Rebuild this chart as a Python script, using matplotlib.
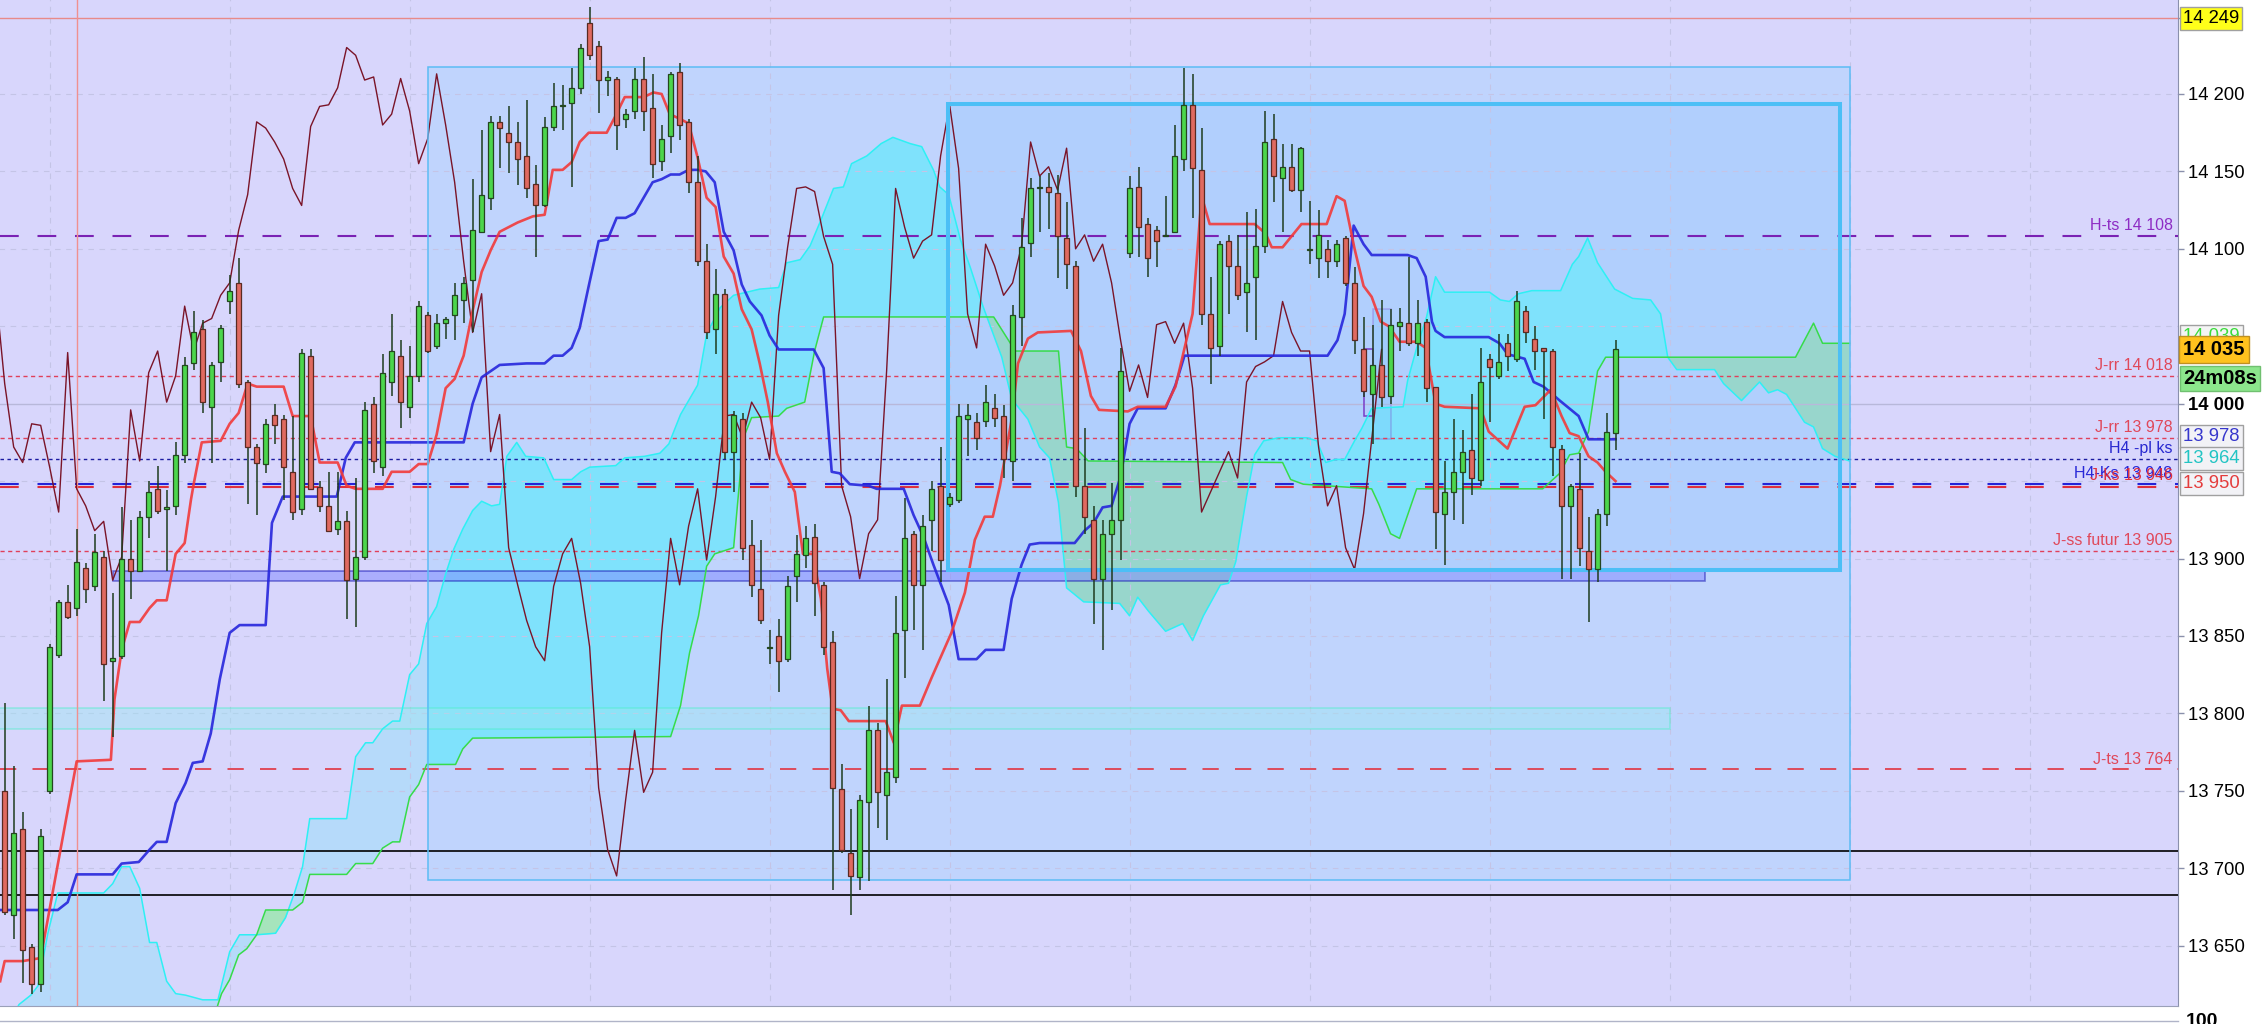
import numpy as np
import matplotlib.pyplot as plt
from matplotlib.patches import Rectangle
from matplotlib.lines import Line2D

plt.rcParams['font.family'] = ['Liberation Sans', 'DejaVu Sans']

# ---- candles (bar index 0..179) ----
opens = [13750, 13670, 13725, 13649, 13625, 13750, 13838, 13872, 13868, 13894,
         13882, 13901, 13834, 13837, 13900, 13892, 13927, 13945, 13932, 13934,
         13967, 14026, 14048, 13998, 14027, 14066, 14078, 14014, 13972, 13961,
         13993, 13990, 13956, 13932, 14031, 13946, 13934, 13919, 13924, 13887,
         13901, 14000, 13959, 14014, 14031, 13998, 14018, 14057, 14037, 14052,
         14057, 14067, 14080, 14111, 14133, 14182, 14175, 14169, 14160, 14142,
         14128, 14179, 14192, 14194, 14204, 14246, 14231, 14209, 14210, 14184,
         14189, 14210, 14191, 14157, 14173, 14214, 14182, 14143, 14092, 14048,
         14071, 13969, 13990, 13909, 13880, 13842, 13850, 13835, 13889, 13902,
         13914, 13883, 13846, 13751, 13710, 13694, 13743, 13789, 13747, 13759,
         13854, 13916, 13883, 13925, 13947, 13935, 13938, 13990, 13988, 13989,
         13997, 13992, 13963, 14056, 14104, 14139, 14140, 14136, 14107, 14089,
         13947, 13925, 13887, 13916, 13925, 14097, 14140, 14116, 14112, 14108,
         14111, 14158, 14193, 14151, 14058, 14037, 14105, 14089, 14072, 14082,
         14102, 14171, 14146, 14153, 14138, 14099, 14094, 14100, 14092, 14107,
         14078, 14035, 14006, 14025, 14005, 14050, 14052, 14039, 14053, 14011,
         13929, 13943, 13956, 13970, 13951, 14029, 14018, 14039, 14029, 14060,
         14042, 14036, 14034, 13971, 13934, 13945, 13905, 13893, 13929, 13981]
closes = [13672, 13723, 13647, 13625, 13721, 13843, 13872, 13862, 13898, 13880,
          13904, 13832, 13836, 13900, 13892, 13927, 13943, 13931, 13933, 13967,
          14025, 14046, 14001, 14025, 14049, 14073, 14013, 13972, 13962, 13987,
          13986, 13959, 13930, 14033, 13945, 13934, 13918, 13924, 13886, 13901,
          13996, 13963, 14020, 14034, 14001, 14018, 14063, 14034, 14052, 14055,
          14070, 14078, 14112, 14135, 14182, 14178, 14169, 14158, 14139, 14128,
          14179, 14192, 14193, 14204, 14230, 14225, 14209, 14211, 14180, 14187,
          14210, 14189, 14155, 14171, 14213, 14180, 14143, 14092, 14046, 14071,
          13969, 13993, 13907, 13883, 13860, 13843, 13834, 13882, 13903, 13913,
          13884, 13843, 13752, 13712, 13695, 13744, 13789, 13749, 13762, 13852,
          13913, 13883, 13921, 13945, 13899, 13940, 13992, 13993, 13978, 14001,
          13991, 13964, 14057, 14101, 14139, 14140, 14137, 14108, 14090, 13947,
          13927, 13887, 13916, 13925, 14021, 14139, 14114, 14094, 14105, 14109,
          14160, 14193, 14152, 14058, 14036, 14103, 14089, 14070, 14078, 14102,
          14169, 14147, 14153, 14138, 14165, 14100, 14109, 14092, 14103, 14078,
          14041, 14008, 14025, 14004, 14051, 14053, 14039, 14052, 14010, 13930,
          13943, 13956, 13969, 13952, 14014, 14024, 14027, 14031, 14066, 14046,
          14034, 14034, 13972, 13934, 13947, 13907, 13893, 13929, 13982, 14035]
highs = [13807, 13766, 13736, 13651, 13725, 13845, 13873, 13883, 13919, 13897,
         13916, 13905, 13878, 13933, 13925, 13931, 13950, 13960, 13944, 13975,
         14030, 14060, 14054, 14027, 14051, 14083, 14094, 14015, 13974, 13990,
         14000, 13993, 13992, 14035, 14035, 13950, 13956, 13956, 13931, 13952,
         14001, 14004, 14032, 14058, 14041, 14037, 14066, 14059, 14058, 14056,
         14078, 14082, 14145, 14177, 14186, 14186, 14192, 14182, 14196, 14154,
         14185, 14207, 14206, 14217, 14232, 14256, 14234, 14215, 14211, 14190,
         14217, 14224, 14213, 14180, 14214, 14220, 14184, 14160, 14103, 14087,
         14074, 13995, 13994, 13925, 13912, 13854, 13861, 13889, 13915, 13921,
         13922, 13885, 13853, 13767, 13738, 13747, 13805, 13794, 13822, 13876,
         13939, 13918, 13928, 13950, 13972, 13942, 14000, 14000, 13994, 14012,
         14006, 13999, 14064, 14120, 14146, 14147, 14149, 14148, 14130, 14092,
         13984, 13934, 13925, 13949, 14036, 14147, 14153, 14120, 14115, 14134,
         14180, 14217, 14213, 14178, 14082, 14105, 14109, 14109, 14124, 14126,
         14189, 14187, 14168, 14168, 14166, 14131, 14125, 14106, 14106, 14108,
         14088, 14056, 14051, 14067, 14061, 14062, 14095, 14067, 14055, 14011,
         13963, 13990, 13983, 14006, 14036, 14032, 14045, 14045, 14073, 14063,
         14050, 14036, 14035, 13973, 13948, 13968, 13927, 13932, 13994, 14041]
lows = [13670, 13654, 13626, 13619, 13620, 13748, 13836, 13861, 13863, 13871,
        13879, 13808, 13785, 13835, 13874, 13892, 13913, 13929, 13892, 13928,
        13962, 14022, 13994, 13962, 14014, 14058, 14010, 13935, 13928, 13955,
        13974, 13938, 13925, 13928, 13944, 13930, 13917, 13915, 13861, 13856,
        13899, 13955, 13953, 14005, 13984, 13991, 14014, 14033, 14035, 14042,
        14041, 14052, 14046, 14110, 14125, 14152, 14149, 14141, 14133, 14095,
        14127, 14176, 14177, 14140, 14200, 14222, 14188, 14199, 14164, 14178,
        14184, 14176, 14146, 14150, 14162, 14170, 14136, 14089, 14042, 14032,
        13964, 13943, 13899, 13875, 13858, 13832, 13814, 13833, 13872, 13894,
        13863, 13838, 13686, 13710, 13670, 13686, 13692, 13726, 13718, 13755,
        13823, 13854, 13841, 13905, 13885, 13933, 13936, 13966, 13970, 13985,
        13985, 13952, 13950, 14037, 14095, 14111, 14113, 14081, 14074, 13940,
        13916, 13858, 13841, 13867, 13899, 14094, 14095, 14082, 14088, 14108,
        14110, 14150, 14120, 14051, 14013, 14031, 14058, 14067, 14046, 14041,
        14097, 14130, 14111, 14137, 14124, 14090, 14081, 14081, 14088, 14076,
        14032, 14004, 13974, 13998, 14000, 14034, 14037, 14031, 14001, 13906,
        13896, 13925, 13922, 13941, 13947, 13988, 14016, 14021, 14027, 14039,
        14022, 13990, 13953, 13887, 13887, 13895, 13859, 13885, 13921, 13970]

# ---- ichimoku lines as (bar, price) vertices ----
tenkan = [(-0.5, 13627), (0, 13640), (2, 13640), (4, 13642), (8, 13769), (11.8, 13770), (12.2, 13809),
          (13, 13841), (13.9, 13859), (15, 13859), (16.1, 13868), (16.9, 13873), (18, 13873), (19, 13903),
          (20, 13910), (20.7, 13938), (21, 13948), (21.9, 13975), (24, 13976), (25, 13987), (26, 13994),
          (27, 14013), (28, 14011), (31, 14011), (32, 13992), (34, 13992), (35, 13962), (37, 13962),
          (38, 13947), (39, 13945), (42, 13945), (43, 13956), (45, 13956), (46, 13961), (47, 13961),
          (48, 13980), (49, 14010), (50, 14016), (51, 14031), (52, 14060), (53, 14085), (54, 14099),
          (55, 14111), (57, 14117), (58.7, 14121), (60, 14122), (60.9, 14151), (62, 14151), (63, 14156),
          (63.9, 14169), (64.9, 14175), (66.9, 14175), (67.8, 14185), (68.9, 14198), (71, 14198),
          (72.1, 14201), (73, 14200), (73.9, 14187), (75, 14184), (76, 14181), (77, 14159), (78, 14133),
          (79, 14127), (79.9, 14095), (81, 14084), (81.9, 14061), (83, 14048), (83.9, 14026), (84.8, 14001),
          (85.8, 13968), (86.7, 13956), (87.8, 13943), (88.7, 13903), (89.8, 13903), (90.7, 13874),
          (91.4, 13829), (92, 13803), (92.9, 13802), (93.8, 13795), (97.9, 13795), (98.8, 13781),
          (99.7, 13805), (101.7, 13805), (103, 13823), (105.2, 13852), (106.7, 13878), (107.8, 13912),
          (108.9, 13927), (109.8, 13927), (110.6, 13947), (111.9, 13990), (112.6, 14026), (113.7, 14042),
          (114.8, 14046), (118.5, 14047), (119.6, 14034), (120.7, 14005), (121.6, 13996), (124.8, 13995),
          (125.9, 13998), (129, 13998), (130.1, 14011), (132, 14058), (133, 14134), (133.9, 14116),
          (138.9, 14116), (140.1, 14110), (140.8, 14101), (142, 14101), (144.1, 14116), (146.9, 14116),
          (148, 14134), (148.9, 14131), (150, 14100), (151, 14076), (151.9, 14069), (152.9, 14053),
          (153.8, 14050), (155, 14040), (156.9, 14040), (157.9, 14036), (159, 14000), (160, 13998),
          (164, 13997), (164.9, 13982), (167, 13971), (168.9, 13998), (170.1, 13999), (171.8, 14009),
          (173, 13992), (173.9, 13981), (174.9, 13979), (176, 13966), (177, 13962), (177.9, 13956),
          (179, 13950)]

kijun = [(-0.5, 13673), (5.9, 13673), (7, 13678), (8, 13696), (12, 13696), (13, 13703), (14.9, 13704),
         (16.1, 13712), (16.9, 13717), (18, 13717), (19, 13742), (20.1, 13755), (20.9, 13768), (22, 13769),
         (22.9, 13787), (23.9, 13822), (25, 13852), (26.1, 13857), (29, 13857), (29.7, 13923), (30.9, 13940),
         (36.9, 13940), (37.9, 13965), (38.9, 13975), (51, 13975), (52, 14000), (53, 14017), (55, 14025),
         (58, 14026), (60, 14026), (61, 14031), (62, 14031), (63, 14036), (63.9, 14049), (64.9, 14076),
         (66, 14105), (67, 14106), (68, 14120), (69, 14120), (70, 14123), (71, 14133), (72, 14143),
         (73, 14145), (74, 14148), (75, 14148), (76, 14151), (77, 14151), (77.9, 14150), (78.9, 14143),
         (79.9, 14111), (81, 14099), (81.9, 14077), (82.8, 14066), (84.1, 14057), (85, 14044), (86, 14035),
         (89.9, 14035), (91, 14023), (91.9, 13956), (92.8, 13955), (93.9, 13948), (96, 13947), (96.9, 13945),
         (99.9, 13945), (101, 13928), (102.1, 13914), (103.2, 13896), (104.9, 13870), (106, 13835),
         (108, 13835), (109, 13841), (111, 13841), (111.9, 13874), (113, 13896), (113.9, 13909), (115, 13910),
         (118.9, 13910), (120, 13918), (121, 13923), (122, 13933), (123, 13934), (124, 13953), (125, 13987),
         (125.9, 13997), (129, 13997), (130.1, 14012), (131.1, 14031), (147, 14031), (148.1, 14041),
         (148.9, 14058), (149.9, 14115), (151, 14103), (151.9, 14096), (155.9, 14096), (156.9, 14094),
         (157.9, 14082), (158.6, 14053), (159, 14047), (160, 14043), (164.9, 14043), (166.1, 14039),
         (167, 14032), (168.9, 14029), (169.9, 14014), (171, 14011), (172.8, 14002), (174.9, 13992),
         (176, 13977), (179, 13977)]

senkou_a = [(-0.5, 13560), (23, 13598), (23.7, 13612), (24.1, 13619), (25, 13628), (26, 13644), (26.9, 13648),
            (28, 13657), (29, 13673), (32, 13673), (33.1, 13678), (33.9, 13696), (38, 13696), (39, 13703),
            (40.9, 13703), (42, 13713), (43.1, 13717), (43.9, 13717), (45, 13746), (46, 13754), (46.9, 13767),
            (50.1, 13767), (50.9, 13777), (52, 13784), (74, 13785), (75.1, 13805), (76.1, 13839), (77.1, 13863),
            (78, 13895), (78.9, 13903), (81, 13907), (82.1, 13978), (83, 13991), (86, 13992), (86.9, 13997),
            (88.9, 14001), (90, 14034), (91, 14056), (109.9, 14056), (112.3, 14034), (117.1, 14034), (118, 13972),
            (119.1, 13971), (120.4, 13963), (142, 13962), (142.9, 13951), (144.3, 13948), (151.9, 13945),
            (152.7, 13935), (154, 13916), (155, 13913), (156.9, 13945), (170.9, 13945), (172.8, 13955),
            (173.9, 13967), (174.9, 13968), (176, 13982), (177, 14021), (177.9, 14030), (199, 14030),
            (200, 14041), (201, 14052), (202, 14039), (205, 14039)]

senkou_b = [(-0.5, 13590), (1.6, 13612), (2.9, 13618), (3.7, 13624), (4.8, 13658), (5.9, 13684), (11, 13684),
            (12, 13690), (13, 13701), (13.9, 13701), (15, 13687), (16.1, 13652), (16.9, 13652), (18, 13627),
            (19, 13619), (20.1, 13618), (22, 13615), (23.7, 13615), (25, 13646), (26.1, 13657), (28, 13657),
            (30.1, 13658), (31.2, 13668), (32.2, 13684), (33.1, 13701), (33.9, 13732), (38, 13732), (39, 13772),
            (40.1, 13781), (40.9, 13781), (42, 13790), (43.1, 13795), (43.9, 13795), (45, 13825), (46, 13832),
            (46.9, 13858), (48, 13869), (49, 13890), (49.9, 13906), (50.9, 13919), (52, 13931), (53, 13937),
            (54.1, 13934), (55, 13935), (55.8, 13966), (56.9, 13975), (57.9, 13966), (59.9, 13965), (61, 13951),
            (63, 13951), (64, 13956), (65, 13959), (67.9, 13960), (68.9, 13965), (71.1, 13966), (72.8, 13968),
            (73.8, 13974), (75.1, 13993), (77, 14012), (78, 14045), (79.5, 14062), (81, 14070), (83.9, 14074),
            (86, 14075), (86.9, 14091), (88.4, 14093), (89.5, 14102), (90.8, 14120), (92.1, 14139), (93.2, 14140),
            (94.1, 14155), (95.8, 14160), (97.4, 14168), (98.7, 14172), (100.6, 14168), (101.9, 14166),
            (103.2, 14151), (103.9, 14140), (104.9, 14135), (106.2, 14106), (107.3, 14088), (108.7, 14063),
            (110.8, 14030), (111.9, 14003), (113.7, 13990), (115, 13972), (116.1, 13965), (117.1, 13936),
            (118, 13881), (119.9, 13872), (123.9, 13871), (125, 13863), (125.9, 13875), (127.1, 13866),
            (129, 13853), (130.9, 13858), (132, 13847), (133.2, 13863), (135.1, 13883), (136, 13884),
            (136.8, 13898), (138, 13940), (138.9, 13967), (139.9, 13976), (141.6, 13978), (144.7, 13978),
            (145.8, 13976), (146.8, 13962), (147.9, 13964), (148.9, 13964), (150, 13976), (150.8, 13984),
            (151.9, 13997), (155.4, 13998), (155.9, 14015), (156.9, 14036), (158, 14056), (159, 14082),
            (160, 14072), (165, 14072), (166.2, 14067), (167.2, 14066), (168.2, 14071), (169.7, 14073),
            (172.9, 14073), (174.2, 14090), (174.9, 14095), (175.9, 14107), (177, 14091), (178.9, 14074),
            (180.9, 14068), (182.9, 14067), (184, 14058), (184.8, 14030), (185.8, 14022), (190, 14022),
            (191, 14013), (193, 14002), (195, 14014), (196, 14007), (197, 14009), (198, 14006), (200, 13988),
            (201, 13985), (202, 13971), (203.4, 13966), (205, 13963)]

chikou_shift = 26

# ---- price levels ----
lvl_top = 14249
lvl_black = [13711, 13683]
grid_prices = [13650, 13700, 13750, 13800, 13850, 13900, 13950, 14050, 14100, 14150, 14200]
tick_prices = [13650, 13700, 13750, 13800, 13850, 13900, 14000, 14100, 14150, 14200]
vgrid_bars = [5, 25, 45, 65, 85, 105, 125, 145, 165, 185, 205, 225]

# figure: 2266 x 1024 px
W, H = 2266, 1024
fig = plt.figure(figsize=(W / 100, H / 100), dpi=100, facecolor='white')
ax = fig.add_axes([0, 1 - 1006 / H, 2178 / W, 1006 / H])
BG = '#d8d6fc'
ax.set_facecolor(BG)
ax.set_xlim(-0.52, 241.5)
ax.set_ylim(13611, 14260.7)

idx = np.arange(len(opens))
o = np.array(opens, float)
c = np.array(closes, float)
hi = np.array(highs, float)
lo = np.array(lows, float)

# rectangles drawn on the chart
ax.add_patch(Rectangle((47, 13692.4), 158, 525.2, fc='#9fd2ff', alpha=0.42, ec='none', zorder=1))
ax.add_patch(Rectangle((47, 13692.4), 158, 525.2, fill=False, ec='#5cbcf5', lw=1.1, zorder=5.4))
ax.add_patch(Rectangle((104.8, 13892.6), 99.1, 300.7, fc='#8cc4ff', alpha=0.28, ec='none', zorder=1.1))

# cloud
ta, ya = np.array(senkou_a).T
tb, yb = np.array(senkou_b).T
xs = np.union1d(np.union1d(ta, tb), [47.0])
a_ = np.interp(xs, ta, ya)
b_ = np.interp(xs, tb, yb)
left = xs <= 47
right = xs >= 47
ax.fill_between(xs, a_, b_, where=(b_ >= a_) & left, interpolate=True, color='#b6dafa', lw=0, zorder=2)
ax.fill_between(xs, a_, b_, where=(b_ >= a_) & right, interpolate=True, color='#7fe2fc', lw=0, zorder=2)
ax.fill_between(xs, a_, b_, where=(a_ >= b_) & left, interpolate=True, color='#a6e4bc', lw=0, zorder=2)
ax.fill_between(xs, a_, b_, where=(a_ >= b_) & right, interpolate=True, color='#98d6cc', lw=0, zorder=2)

# grid
ax.hlines(grid_prices, -1, 242, colors='#c4c4e6', lw=0.8, linestyles=(0, (5, 5)), zorder=2.5)
ax.vlines(vgrid_bars, 13600, 14270, colors='#c4c4e6', lw=0.8, linestyles=(0, (5, 5)), zorder=2.5)
ax.axhline(14000, color='#b8b8da', lw=1, zorder=2.5)

# zones
ax.add_patch(Rectangle((-1, 13790.1), 186, 13.6, fc='#9ee6f2', alpha=0.45, ec='#4cf0c8', lw=1.2, zorder=3))
ax.add_patch(Rectangle((12, 13885.4), 176.9, 6.6, fc='#8088ff', alpha=0.5, ec='#1010b0', lw=1.2, zorder=3))
ax.add_patch(Rectangle((151, 13992), 1, 43, fill=False, ec='#7a3cc8', lw=1.1, zorder=3))
ax.add_patch(Rectangle((152, 13977), 2, 84, fc='#7cc8ff', alpha=0.3, ec='#7a3cc8', lw=1.1, zorder=3))

# horizontal levels
ax.axhline(lvl_top, color='#e88a8a', lw=1, zorder=3.5)
for yv in lvl_black:
    ax.axhline(yv, color='black', lw=1.2, zorder=3.5)
ax.axhline(14108, color='#7a22b4', lw=1.5, ls=(0, (9, 9)), zorder=3.5)
ax.axhline(14018, color='#e0405a', lw=1, ls=(0, (3, 2.5)), zorder=3.5)
ax.axhline(13978, color='#e0405a', lw=1, ls=(0, (3, 2.5)), zorder=3.5)
ax.axhline(13964, color='#1a1aa0', lw=1, ls=(0, (2.5, 2.5)), zorder=3.5)
ax.axhline(13948, color='#2424d8', lw=1.5, ls=(0, (9, 9)), zorder=3.5)
ax.axhline(13946, color='#e0303c', lw=1.5, ls=(0, (9, 9)), zorder=3.5)
ax.axhline(13905, color='#e0405a', lw=1, ls=(0, (3, 2.5)), zorder=3.5)
ax.axhline(13764, color='#e0404e', lw=1.3, ls=(0, (9, 9)), zorder=3.5)
ax.axvline(8, color='#f09090', lw=1, zorder=3.5)

# level labels
lab = dict(ha='right', va='baseline', fontsize=11.5, zorder=8)
xr = 240.9
ax.text(xr, 14112, 'H-ts 14 108', color='#8e2cc4', **lab)
ax.text(xr, 14021.5, 'J-rr 14 018', color='#e0485a', **lab)
ax.text(xr, 13981.5, 'J-rr 13 978', color='#e0485a', **lab)
ax.text(xr, 13968, 'H4 -pl ks', color='#2828d0', **lab)
ax.text(xr, 13952, 'H4-Ks 13 948', color='#2828d8', **lab)
ax.text(xr, 13950.5, 'J-ks 13 946', color='#e0303c', **lab)
ax.text(xr, 13908.5, 'J-ss futur 13 905', color='#e0485a', **lab)
ax.text(xr, 13767.5, 'J-ts 13 764', color='#e0485a', **lab)

# ichimoku lines
ax.plot(*np.array(senkou_b).T, color='#2ef0f4', lw=1.1, zorder=4)
ax.plot(*np.array(senkou_a).T, color='#36dc4a', lw=1.1, zorder=4)
ax.plot(idx[chikou_shift - 1:] - chikou_shift, c[chikou_shift - 1:], color='#7a1428', lw=1.0, zorder=4.2)
ax.plot(*np.array(kijun).T, color='#2626dc', lw=1.9, alpha=0.9, zorder=5)
ax.plot(*np.array(tenkan).T, color='#f23a3a', lw=1.9, alpha=0.9, zorder=5)

# bold rectangle border
ax.add_patch(Rectangle((104.8, 13892.6), 99.1, 300.7, fill=False, ec='#4cbff6', lw=2.9,
                       joinstyle='miter', zorder=5.5))

# candles
up = c >= o
body_lo = np.minimum(o, c)
body_h = np.maximum(np.abs(c - o), 0.9)
ax.vlines(idx, lo, hi, colors='#1e3c1e', lw=1.1, zorder=6)
ax.bar(idx[up], body_h[up], bottom=body_lo[up], width=0.62, color='#4cd64c',
       edgecolor='#24461f', lw=0.9, zorder=7)
ax.bar(idx[~up], body_h[~up], bottom=body_lo[~up], width=0.62, color='#e06a60',
       edgecolor='#5a2a22', lw=0.9, zorder=7)

# axes styling
for s in ('top', 'left'):
    ax.spines[s].set_visible(False)
ax.spines['right'].set_color('#8a90ac')
ax.spines['bottom'].set_color('#9aa0b8')
ax.set_xticks([])
ax.yaxis.tick_right()
ax.set_yticks(tick_prices + [lvl_top])
ax.set_yticklabels([f'{v:,}'.replace(',', ' ') for v in tick_prices] + [''])
ax.tick_params(axis='y', length=4, width=1, color='#8a90ac', labelsize=13.3, pad=3)
for t in ax.get_yticklabels():
    if t.get_text() == '14 000':
        t.set_fontweight('bold')

# price boxes on the right scale
ytr = ax.get_yaxis_transform()
def price_box(y, s, fc, tc, bold=False, z=10, ec='#a0a0a0', size=13.3, pad=0.17):
    ax.text(1.0023, y, s, transform=ytr, ha='left', va='center', fontsize=size, color=tc,
            fontweight='bold' if bold else 'normal', zorder=z, clip_on=False,
            bbox=dict(boxstyle=f'square,pad={pad}', fc=fc, ec=ec, lw=1))

price_box(14248.8, '14 249', '#ffff1a', 'black')
price_box(14043.5, '14 039', '#f4f4f4', '#3cdc3c', z=9)
price_box(14035, '14 035', '#ffc21e', 'black', bold=True, z=11, ec='#c09020', size=14.5, pad=0.2)
price_box(14016.3, '24m08s', '#8ce68c', 'black', bold=True, z=11, ec='#70c070', size=14.5)
price_box(13979, '13 978', '#f2f2f6', '#3636cc')
price_box(13964.5, '13 964', '#f2f2f6', '#22c4c4')
price_box(13948.6, '13 950', '#f2f2f6', '#e43c3c')

# lower pane edge
fig.add_artist(Line2D([0, 2178 / W], [1 - 1021 / H, 1 - 1021 / H], color='#b0b4c8', lw=1))
fig.text(2186 / W, 1 - 1013 / H, '100', ha='left', va='top', fontsize=14, fontweight='bold')

fig.savefig('out.png', dpi=100)
